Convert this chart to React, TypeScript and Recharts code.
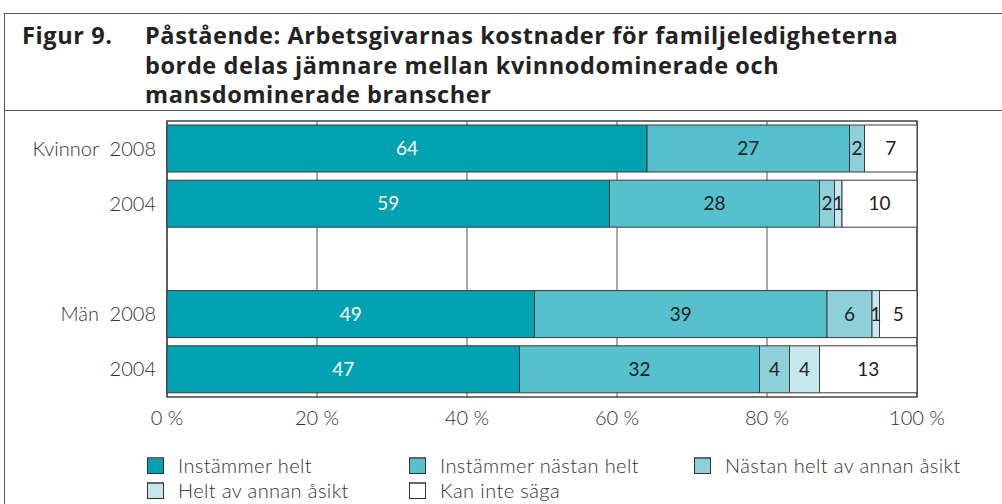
import React from "react";
import { BarChart, Bar, XAxis, YAxis, CartesianGrid, LabelList, ReferenceArea } from "recharts";

const rowIds = ["k2008", "k2004", "gap", "m2008", "m2004"];
const groupLabels = ["Kvinnor", "", "", "Män", ""];
const yearLabels = ["2008", "2004", "", "2008", "2004"];

const instammerHelt = [64, 59, null, 49, 47];
const instammerNastanHelt = [27, 28, null, 39, 32];
const nastanHeltAvAnnan = [2, 2, null, 6, 4];
const heltAvAnnan = [0, 1, null, 1, 4];
const kanInteSaga = [7, 10, null, 5, 13];

const seriesNames = [
  "Instämmer helt",
  "Instämmer nästan helt",
  "Nästan helt av annan åsikt",
  "Helt av annan åsikt",
  "Kan inte säga",
];
const seriesKeys = ["s1", "s2", "s3", "s4", "s5"];
const seriesColors = ["#00A2B1", "#56C0CC", "#8ED0DA", "#C6E7EC", "#FFFFFF"];
const labelColors = ["#FFFFFF", "#222222", "#222222", "#222222", "#222222"];

const xTicks = [0, 20, 40, 60, 80, 100];

const titleLabel = "Figur 9.";
const titleLines = [
  "Påstående: Arbetsgivarnas kostnader för familjeledigheterna",
  "borde delas jämnare mellan kvinnodominerade och",
  "mansdominerade branscher",
];

const allSeries = [instammerHelt, instammerNastanHelt, nastanHeltAvAnnan, heltAvAnnan, kanInteSaga];
const data = rowIds.map((id, i) => {
  const row: any = { id };
  seriesKeys.forEach((k, j) => {
    row[k] = allSeries[j][i];
  });
  return row;
});

const FONT = "Lato, 'Open Sans', sans-serif";
const TITLE_FONT = "'Open Sans', Lato, sans-serif";

const YTick = (props: any) => {
  const { y, index } = props;
  return (
    <g>
      <text x={99} y={y} dy={7} textAnchor="end" fontFamily={FONT} fontWeight={300} fontSize={20} fill="#333">
        {groupLabels[index]}
      </text>
      <text x={156} y={y} dy={7} textAnchor="end" fontFamily={FONT} fontWeight={300} fontSize={20} fill="#333">
        {yearLabels[index]}
      </text>
    </g>
  );
};

const fmt = (v: any) => (v === null || v === undefined || v === 0 ? "" : String(v));

export default function App() {
  return (
    <div style={{ position: "absolute", left: 0, top: 0, width: 1002, height: 504, background: "#fff", overflow: "hidden", fontFamily: FONT }}>
      {/* outer frame */}
      <div style={{ position: "absolute", left: 4, top: 13, width: 1010, height: 510, borderLeft: "1.5px solid #555", borderTop: "1.5px solid #555" }} />
      <div style={{ position: "absolute", left: 4, top: 110, width: 1000, height: 0, borderTop: "1.5px solid #555" }} />
      {/* title */}
      <div style={{ position: "absolute", left: 22, top: 21, fontFamily: TITLE_FONT, fontWeight: 700, fontSize: 23.5, letterSpacing: 0.6, color: "#222", lineHeight: "29.5px" }}>
        {titleLabel}
      </div>
      <div style={{ position: "absolute", left: 145, top: 21, fontFamily: TITLE_FONT, fontWeight: 700, fontSize: 23.5, letterSpacing: 0.6, color: "#222", lineHeight: "29.5px", whiteSpace: "nowrap" }}>
        {titleLines.map((l, i) => (
          <div key={i}>{l}</div>
        ))}
      </div>
      <div style={{ position: "absolute", left: 0, top: 0 }}>
        <BarChart
          width={1002}
          height={504}
          data={data}
          layout="vertical"
          margin={{ top: 121, right: 85, bottom: 77, left: 0 }}
          barSize={47}
        >
          <CartesianGrid horizontal={false} vertical={true} stroke="#555" strokeWidth={1} />
          <ReferenceArea x1={0} x2={100} fill="none" stroke="#444" strokeWidth={1.5} />
          <XAxis
            type="number"
            domain={[0, 100]}
            ticks={xTicks}
            tickFormatter={(v: number) => `${v} %`}
            axisLine={false}
            tickLine={false}
            height={30}
            tickMargin={8}
            tick={{ fontFamily: FONT, fontWeight: 300, fontSize: 20, fill: "#333" }}
            interval={0}
          />
          <YAxis
            type="category"
            dataKey="id"
            width={167}
            axisLine={false}
            tickLine={false}
            tick={<YTick />}
            interval={0}
          />
          {seriesKeys.map((k, j) => (
            <Bar
              key={k}
              dataKey={k}
              name={seriesNames[j]}
              stackId="a"
              fill={seriesColors[j]}
              stroke="#3a3a3a"
              strokeWidth={1}
              isAnimationActive={false}
            >
              <LabelList
                dataKey={k}
                position="center"
                formatter={fmt}
                fill={labelColors[j]}
                fontFamily={FONT}
                fontSize={19}
              />
            </Bar>
          ))}
        </BarChart>
      </div>
      {/* legend */}
      {seriesNames.map((name, j) => {
        const col = j % 3;
        const row = Math.floor(j / 3);
        const sx = [147, 409, 694][col];
        const sy = [456, 481][row];
        return (
          <div key={name} style={{ position: "absolute", left: sx, top: sy, display: "flex", alignItems: "center", whiteSpace: "nowrap" }}>
            <div style={{ width: 15, height: 14, background: seriesColors[j], border: "1px solid #333", borderTop: "2px solid #666" }} />
            <span style={{ marginLeft: 14, fontSize: 20, letterSpacing: 0.4, fontWeight: 300, color: "#333", lineHeight: "18px" }}>{name}</span>
          </div>
        );
      })}
    </div>
  );
}
